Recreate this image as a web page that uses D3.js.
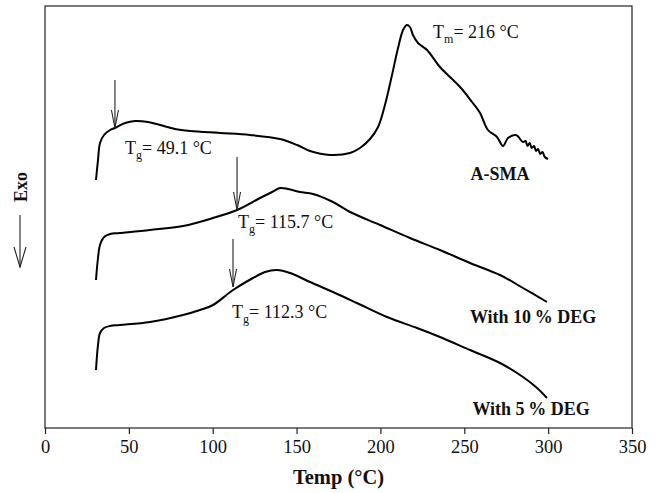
<!DOCTYPE html>
<html>
<head>
<meta charset="utf-8">
<script src="https://cdn.jsdelivr.net/npm/d3@7"></script>
<style>
  body { margin: 0; background: #fff; }
  svg text { font-family: "Liberation Serif", "Times New Roman", serif; fill: #111; }
</style>
</head>
<body>
<div id="chart"></div>
<script>
// temperature (°C) and heat flow (arbitrary units)
const asmaT = [30.4, 31.6, 32.8, 35.2, 38.8, 41.7, 47.7, 53.7, 61.4, 68.6, 77.5, 86.5, 104.3, 122.2, 140.1, 150.3, 158, 169.9, 181.9, 187.8, 193.8, 198.6, 202.7, 206.9, 210.5, 213.5, 215.8, 217.6, 219.4, 222.4, 227.8, 235.5, 247.5, 254.6, 259.4, 264.1, 269.5, 273.1, 276.1, 280.8, 285.0, 286.5, 287.7, 289.0, 290.2, 291.6, 292.8, 294.0, 295.3, 296.6, 298.0, 299.9];
const asmaV = [248, 268, 285, 293, 298, 300, 305, 307, 306, 303, 299, 297, 295, 293, 289, 283, 277, 273, 275, 280, 289, 301, 323, 353, 380, 398, 403, 401, 393, 385, 378, 361, 341, 326, 315, 298, 291, 282, 290, 293, 286, 287, 282, 285, 280, 282, 277, 279, 274, 276, 271, 269];

const deg10T = [30.4, 31.6, 32.8, 35.2, 38.8, 44.7, 62.6, 82.3, 100.2, 114.5, 128.2, 135.4, 140.1, 144.9, 152.1, 159.8, 171.7, 181.9, 199.8, 217.6, 235.5, 253.4, 271.3, 285.0, 299.3];
const deg10V = [148, 170, 183, 191, 194, 195, 198, 202, 210, 218, 230, 236, 240, 239, 236, 234, 226, 216, 203, 190, 178, 165, 153, 140, 126];

const deg5T = [30.4, 31.6, 32.8, 35.2, 38.8, 44.7, 62.6, 82.3, 92.4, 100.2, 112.1, 124.0, 131.2, 138.3, 146.1, 158.0, 171.7, 186.0, 203.9, 221.8, 235.5, 253.4, 271.3, 285.0, 293.4, 299.3];
const deg5V = [58, 83, 95, 100, 102, 103, 106, 113, 118, 123, 138, 150, 156, 158, 155, 146, 136, 125, 111, 100, 91, 78, 65, 51, 40, 30];

const xTicks = [0, 50, 100, 150, 200, 250, 300, 350];

// glass transition markers: arrow x, arrow top, arrow tip
const arrowT = [41.7, 114.5, 112.1];
const arrowTop = [348, 271, 189];
const arrowTip = [300, 218, 141];

// annotation texts
const noteMain = ["T", "T", "T", "T"];
const noteSub = ["g", "g", "g", "m"];
const noteRest = ["= 49.1 °C", "= 115.7 °C", "= 112.3 °C", "= 216 °C"];
const noteT = [47.7, 115.1, 111.5, 231.4];
const noteV = [274, 200, 110, 390];

const seriesNames = ["A-SMA", "With 10\u202F% DEG", "With 5\u202F% DEG"];
const nameT = [271.3, 291, 289.8];
const nameV = [248, 105, 13];

const W = 662, H = 493;
const margin = { top: 6, right: 30, bottom: 65, left: 45 };
const width = W - margin.left - margin.right;
const height = H - margin.top - margin.bottom;

const x = d3.scaleLinear().domain([0, 350]).range([0, width]);
const y = d3.scaleLinear().domain([0, 422]).range([height, 0]);

const svg = d3.select("#chart").append("svg")
    .attr("width", W)
    .attr("height", H)
    .append("g")
    .attr("transform", "translate(" + margin.left + "," + margin.top + ")");

// x axis
const xAxis = svg.append("g")
    .attr("transform", "translate(0," + height + ")")
    .call(d3.axisBottom(x).tickValues(xTicks).tickSize(6).tickSizeOuter(0).tickPadding(6));
xAxis.select(".domain").remove();
xAxis.selectAll("line").attr("stroke", "#222").attr("stroke-width", 1.2);
xAxis.selectAll("text")
    .attr("font-family", "Liberation Serif")
    .attr("font-size", 18.5)
    .attr("fill", "#111");

// frame
svg.append("rect")
    .attr("x", 0).attr("y", 0)
    .attr("width", width).attr("height", height)
    .attr("fill", "none")
    .attr("stroke", "#222")
    .attr("stroke-width", 1.2);

// curves
const line = d3.line()
    .x(d => x(d[0]))
    .y(d => y(d[1]))
    .curve(d3.curveCatmullRom.alpha(0.5));

const series = [
    d3.zip(asmaT, asmaV),
    d3.zip(deg10T, deg10V),
    d3.zip(deg5T, deg5V)
];

svg.selectAll("path.curve")
    .data(series)
    .enter()
    .append("path")
    .attr("class", "curve")
    .attr("d", line)
    .attr("fill", "none")
    .attr("stroke", "#000")
    .attr("stroke-width", 2)
    .attr("stroke-linejoin", "round");

// arrows pointing down
function arrow(g, x0, y0, y1, hl, hw) {
    g.append("line")
        .attr("x1", x0).attr("x2", x0)
        .attr("y1", y0).attr("y2", y1)
        .attr("stroke", "#222").attr("stroke-width", 1.1);
    g.append("path")
        .attr("d", "M" + (x0 - hw) + "," + (y1 - hl) + "L" + x0 + "," + y1 + "L" + (x0 + hw) + "," + (y1 - hl))
        .attr("fill", "none")
        .attr("stroke", "#222").attr("stroke-width", 1.1);
}
arrowT.forEach((t, i) => arrow(svg, x(t), y(arrowTop[i]), y(arrowTip[i]), 18, 3.5));

// annotations
noteT.forEach((_, i) => {
    const t = svg.append("text")
        .attr("x", x(noteT[i]))
        .attr("y", y(noteV[i]))
        .attr("font-size", 18);
    t.append("tspan").text(noteMain[i]);
    t.append("tspan").attr("font-size", 12).attr("dy", 5).text(noteSub[i]);
    t.append("tspan").attr("dy", -5).text(noteRest[i]);
});

svg.selectAll("text.series-name")
    .data(seriesNames)
    .enter()
    .append("text")
    .attr("class", "series-name")
    .attr("x", (d, i) => x(nameT[i]))
    .attr("y", (d, i) => y(nameV[i]))
    .attr("text-anchor", "middle")
    .attr("font-weight", "bold")
    .attr("font-size", 18)
    .text(d => d);

// axis titles
svg.append("text")
    .attr("x", width / 2)
    .attr("y", height + 56)
    .attr("text-anchor", "middle")
    .attr("font-weight", "bold")
    .attr("font-size", 20.5)
    .text("Temp (°C)");

svg.append("text")
    .attr("transform", "translate(" + (-24) + "," + 181 + ") rotate(-90)")
    .attr("text-anchor", "middle")
    .attr("dy", "0.35em")
    .attr("font-weight", "bold")
    .attr("font-size", 18)
    .text("Exo");

arrow(svg, -25, 209, 261, 20, 6);
</script>
</body>
</html>
